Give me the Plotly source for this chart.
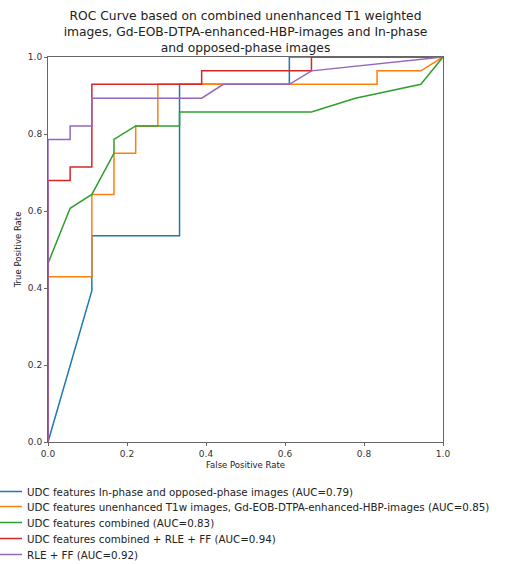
import plotly.graph_objects as go

names = [
    "UDC features In-phase and opposed-phase images (AUC=0.79)",
    "UDC features unenhanced T1w images, Gd-EOB-DTPA-enhanced-HBP-images (AUC=0.85)",
    "UDC features combined (AUC=0.83)",
    "UDC features combined + RLE + FF (AUC=0.94)",
    "RLE + FF (AUC=0.92)",
]
colors = ["#1f77b4", "#ff7f0e", "#2ca02c", "#d62728", "#9467bd"]

blue_fpr = [0, 0.111, 0.111, 0.333, 0.333, 0.611, 0.611, 1.0]
blue_tpr = [0, 0.393, 0.536, 0.536, 0.929, 0.929, 1.0, 1.0]

orange_fpr = [0, 0, 0.111, 0.111, 0.167, 0.167, 0.222, 0.222, 0.278, 0.278, 0.833, 0.833, 0.944, 1.0]
orange_tpr = [0, 0.429, 0.429, 0.643, 0.643, 0.75, 0.75, 0.821, 0.821, 0.929, 0.929, 0.964, 0.964, 1.0]

green_fpr = [0, 0, 0.056, 0.111, 0.167, 0.167, 0.222, 0.333, 0.333, 0.667, 0.778, 0.944, 1.0]
green_tpr = [0, 0.464, 0.607, 0.643, 0.75, 0.786, 0.821, 0.821, 0.857, 0.857, 0.893, 0.929, 1.0]

red_fpr = [0, 0, 0.056, 0.056, 0.111, 0.111, 0.389, 0.389, 0.667, 0.667, 1.0]
red_tpr = [0, 0.679, 0.679, 0.714, 0.714, 0.929, 0.929, 0.964, 0.964, 1.0, 1.0]

purple_fpr = [0, 0, 0.056, 0.056, 0.111, 0.111, 0.389, 0.444, 0.611, 0.667, 1.0]
purple_tpr = [0, 0.786, 0.786, 0.821, 0.821, 0.893, 0.893, 0.929, 0.929, 0.964, 1.0]

series = [(blue_fpr, blue_tpr), (orange_fpr, orange_tpr), (green_fpr, green_tpr),
          (red_fpr, red_tpr), (purple_fpr, purple_tpr)]

tick_vals = [0.0, 0.2, 0.4, 0.6, 0.8, 1.0]

FONT = "DejaVu Sans"
W, H = 512, 564
ML, MR, MT, MB = 48, 69, 57, 122
PW, PH = W - ML - MR, H - MT - MB

fig = go.Figure()
legend_ids = ["legend", "legend2", "legend3", "legend4", "legend5"]
for (fx, ty), nm, c, lid in zip(series, names, colors, legend_ids):
    fig.add_trace(go.Scatter(x=fx, y=ty, mode="lines", name=nm, legend=lid,
                             line=dict(color=c, width=1.5)))

axis_common = dict(
    range=[0, 1], tickvals=tick_vals, tickformat=".1f", automargin=False,
    showgrid=False, zeroline=False, showline=True, mirror=True, layer="above traces",
    linecolor="#666666", linewidth=1, ticks="outside", ticklen=3,
    tickcolor="#666666", tickfont=dict(size=9, color="#333333", family=FONT),
)

legend_tops = [477, 492, 508, 524, 540]
legends = {}
for lid, top in zip(legend_ids, legend_tops):
    legends[lid] = dict(xref="paper", yref="paper",
                        x=-ML / PW, xanchor="left",
                        y=(H - MB - top) / PH, yanchor="top",
                        indentation=-13,
                        font=dict(size=10.3, family=FONT, color="#222222"),
                        bgcolor="rgba(0,0,0,0)", itemwidth=30)

fig.update_layout(
    width=W, height=H,
    margin=dict(l=ML, r=MR, t=MT, b=MB, autoexpand=False),
    paper_bgcolor="white", plot_bgcolor="white",
    font=dict(family=FONT, color="#222222"),
    title=dict(
        text="ROC Curve based on combined unenhanced T1 weighted<br>images, Gd-EOB-DTPA-enhanced-HBP-images and In-phase<br>and opposed-phase images",
        x=245.5 / W, xanchor="center", y=0.964, yanchor="top",
        font=dict(size=12.3, family=FONT, color="#222222"),
    ),
    xaxis=dict(axis_common, title=dict(text="False Positive Rate",
                                       font=dict(size=8.5, family=FONT), standoff=4)),
    yaxis=dict(axis_common, title=dict(text="True Positive Rate",
                                       font=dict(size=8.5, family=FONT), standoff=4)),
    showlegend=True,
    **legends,
)

fig.write_html("out.html")
